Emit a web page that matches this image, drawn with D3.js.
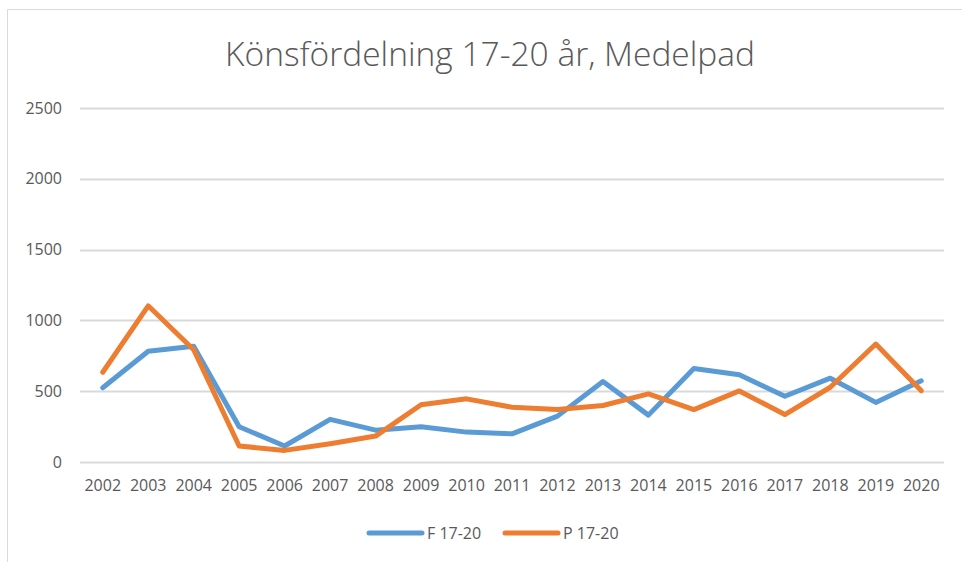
<!DOCTYPE html>
<html>
<head>
<meta charset="utf-8">
<script src="https://cdn.jsdelivr.net/npm/d3@7"></script>
<style>
  body { margin: 0; background: #fff; }
  text { font-family: "Open Sans", "Noto Sans", sans-serif; fill: #595959; }
</style>
</head>
<body>
<div id="chart"></div>
<script>
const years = ["2002","2003","2004","2005","2006","2007","2008","2009","2010","2011",
               "2012","2013","2014","2015","2016","2017","2018","2019","2020"];
const seriesF = [524, 782, 817, 249, 113, 301, 225, 249, 211, 199, 324, 568, 331, 661, 616, 464, 592, 421, 573];
const seriesP = [634, 1103, 793, 113, 82, 129, 183, 404, 446, 387, 370, 399, 481, 370, 502, 335, 528, 833, 504];
const yTicks = [0, 500, 1000, 1500, 2000, 2500];
const seriesNames = ["F 17-20", "P 17-20"];
const colors = ["#5B9BD5", "#ED7D31"];

const width = 962, height = 562;
const margin = {top: 108, right: 18, bottom: 100, left: 80};

const svg = d3.select("#chart").append("svg")
    .attr("width", width)
    .attr("height", height);

// chart area border (top + left only visible)
svg.append("path")
    .attr("d", "M7.5,562 V9.5 H962")
    .attr("fill", "none")
    .attr("stroke", "#d9d9d9")
    .attr("stroke-width", 1);

svg.append("text")
    .attr("x", 490)
    .attr("y", 66)
    .attr("text-anchor", "middle")
    .attr("font-size", 33.5)
    .attr("font-weight", 300)
    .text("Könsfördelning 17-20 år, Medelpad");

const x = d3.scaleBand()
    .domain(years)
    .range([margin.left, width - margin.right]);

const y = d3.scaleLinear()
    .domain([0, 2500])
    .range([462, margin.top]);

// gridlines
svg.append("g")
    .selectAll("line")
    .data(yTicks)
    .join("line")
    .attr("x1", margin.left)
    .attr("x2", width - margin.right)
    .attr("y1", d => Math.round(y(d)) + 0.5)
    .attr("y2", d => Math.round(y(d)) + 0.5)
    .attr("stroke", "#d9d9d9")
    .attr("stroke-width", 2);

const yAxis = d3.axisLeft(y).tickValues(yTicks).tickFormat(d3.format("d")).tickSize(0).tickPadding(18);
svg.append("g")
    .attr("transform", `translate(${margin.left},0)`)
    .call(yAxis)
    .call(g => g.select(".domain").remove())
    .selectAll("text")
    .attr("font-size", 16)
    .attr("fill", "#595959");

const xAxis = d3.axisBottom(x).tickSize(0).tickPadding(18);
svg.append("g")
    .attr("transform", `translate(0,462)`)
    .call(xAxis)
    .call(g => g.select(".domain").remove())
    .selectAll("text")
    .attr("font-size", 16)
    .attr("fill", "#595959");

const line = d3.line()
    .x((d, i) => x(years[i]) + x.bandwidth() / 2)
    .y(d => y(d));

[seriesF, seriesP].forEach((s, i) => {
    svg.append("path")
        .datum(s)
        .attr("d", line)
        .attr("fill", "none")
        .attr("stroke", colors[i])
        .attr("stroke-width", 5)
        .attr("stroke-linejoin", "round")
        .attr("stroke-linecap", "round");
});

// legend
const legend = svg.append("g").attr("transform", "translate(367,533)");
const items = legend.selectAll("g")
    .data(seriesNames)
    .join("g")
    .attr("transform", (d, i) => `translate(${i * 136},0)`);
items.append("line")
    .attr("x1", 2).attr("x2", 55)
    .attr("stroke", (d, i) => colors[i])
    .attr("stroke-width", 5)
    .attr("stroke-linecap", "round");
items.append("text")
    .attr("x", 60)
    .attr("dy", "0.35em")
    .attr("font-size", 16)
    .text(d => d);
</script>
</body>
</html>
